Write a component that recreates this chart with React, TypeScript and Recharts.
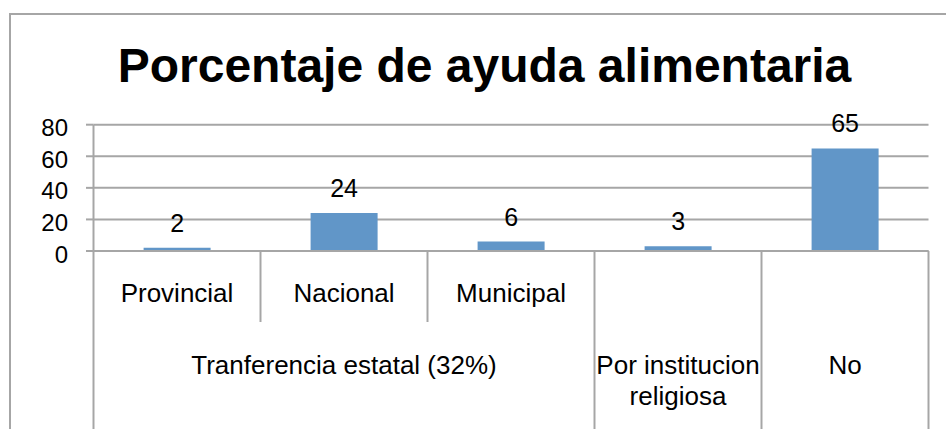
import React from 'react';
import { BarChart, Bar, XAxis, YAxis, CartesianGrid, LabelList } from 'recharts';

// categories, two levels
const subCategories = ['Provincial', 'Nacional', 'Municipal', '', ''];
const groupCategories = [
  'Tranferencia estatal (32%)',
  'Tranferencia estatal (32%)',
  'Tranferencia estatal (32%)',
  'Por institucion religiosa',
  'No',
];
const percentages = [2, 24, 6, 3, 65];
const yTicks = [0, 20, 40, 60, 80];

const data = percentages.map((value, i) => ({
  id: i,
  sub: subCategories[i],
  group: groupCategories[i],
  value,
}));

const FONT = '"Liberation Sans", Arial, sans-serif';
const GRAY = '#a6a6a6';
const SUB_H = 71;
const GROUP_H = 107;
const LABEL_SIZE = 26;

let ctx: CanvasRenderingContext2D | null = null;
function measure(s: string) {
  if (!ctx) {
    ctx = document.createElement('canvas').getContext('2d');
    if (ctx) ctx.font = `${LABEL_SIZE}px ${FONT}`;
  }
  return ctx ? ctx.measureText(s).width : s.length * LABEL_SIZE * 0.5;
}

// greedy word wrap, like Excel does for category labels
function wrap(s: string, maxWidth: number) {
  const words = s.split(' ');
  const lines: string[] = [];
  let cur = '';
  words.forEach((w) => {
    const next = cur ? cur + ' ' + w : w;
    if (cur && measure(next) > maxWidth) {
      lines.push(cur);
      cur = w;
    } else {
      cur = next;
    }
  });
  if (cur) lines.push(cur);
  return lines;
}

function SubTick(props: any) {
  const { x, y, payload } = props;
  const i = payload.index ?? props.index;
  const half = payload.offset;
  const last = i === data.length - 1;
  const label = subCategories[i];
  return (
    <g>
      <line x1={x - half} x2={x - half} y1={y} y2={y + SUB_H} stroke={GRAY} strokeWidth={2} />
      {last && <line x1={x + half} x2={x + half} y1={y} y2={y + SUB_H} stroke={GRAY} strokeWidth={2} />}
      {label && (
        <text x={x} y={y + 51} textAnchor="middle" fill="#000" style={{ fontSize: LABEL_SIZE, fontFamily: FONT }}>
          {label}
        </text>
      )}
    </g>
  );
}

function GroupTick(props: any) {
  const { x, y, payload } = props;
  const i = payload.index ?? props.index;
  const half = payload.offset;
  const name = groupCategories[i];
  const isStart = i === 0 || groupCategories[i - 1] !== name;
  if (!isStart) return <g />;
  let end = i;
  while (end + 1 < groupCategories.length && groupCategories[end + 1] === name) end++;
  const cx = x + (end - i) * half;
  const rightX = x + (2 * (end - i) + 1) * half;
  const lines = wrap(name, (end - i + 1) * 2 * half);
  return (
    <g>
      <line x1={x - half} x2={x - half} y1={y} y2={y + GROUP_H} stroke={GRAY} strokeWidth={2} />
      {end === groupCategories.length - 1 && (
        <line x1={rightX} x2={rightX} y1={y} y2={y + GROUP_H} stroke={GRAY} strokeWidth={2} />
      )}
      <text x={cx} y={y + 52} textAnchor="middle" fill="#000" style={{ fontSize: LABEL_SIZE, fontFamily: FONT }}>
        {lines.map((ln, k) => (
          <tspan key={k} x={cx} dy={k === 0 ? 0 : 31}>
            {ln}
          </tspan>
        ))}
      </text>
    </g>
  );
}

export default function App() {
  return (
    <div
      style={{
        position: 'absolute',
        left: 0,
        top: 0,
        width: 946,
        height: 429,
        overflow: 'hidden',
        background: '#fff',
        fontFamily: FONT,
      }}
    >
      <div
        style={{
          position: 'absolute',
          left: 9,
          top: 13,
          width: 1000,
          height: 1000,
          border: `2px solid ${GRAY}`,
        }}
      />
      <div
        style={{
          position: 'absolute',
          left: 0,
          top: 42,
          width: 969,
          textAlign: 'center',
          fontSize: 48,
          lineHeight: '47px',
          fontWeight: 'bold',
          color: '#000',
        }}
      >
        Porcentaje de ayuda alimentaria
      </div>
      <div style={{ position: 'absolute', left: 0, top: 0 }}>
        <BarChart
          width={946}
          height={429}
          data={data}
          margin={{ top: 124.7, right: 17.5, bottom: 0, left: 0 }}
          barCategoryGap="30%"
        >
          <CartesianGrid vertical={false} stroke={GRAY} strokeWidth={2} />
          <XAxis
            dataKey="id"
            height={SUB_H}
            interval={0}
            tickSize={0}
            tickMargin={0}
            tickLine={false}
            axisLine={{ stroke: GRAY, strokeWidth: 2 }}
            tick={<SubTick />}
          />
          <XAxis
            xAxisId="group"
            dataKey="id"
            height={GROUP_H}
            interval={0}
            tickSize={0}
            tickMargin={0}
            tickLine={false}
            axisLine={false}
            tick={<GroupTick />}
          />
          <YAxis
            width={93.5}
            domain={[0, 80]}
            ticks={yTicks}
            interval={0}
            tickSize={7.5}
            tickMargin={18}
            axisLine={{ stroke: GRAY, strokeWidth: 2 }}
            tickLine={{ stroke: GRAY, strokeWidth: 2 }}
            tick={{ fontSize: 24, fill: '#000', fontFamily: FONT, dy: 3 }}
          />
          <Bar dataKey="value" fill="#6196c8" isAnimationActive={false}>
            <LabelList
              dataKey="value"
              position="top"
              offset={16}
              fill="#000"
              fontSize={25}
              fontFamily={FONT}
            />
          </Bar>
        </BarChart>
      </div>
    </div>
  );
}
